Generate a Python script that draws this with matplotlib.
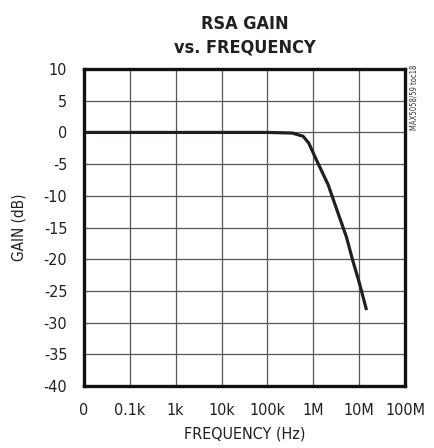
import numpy as np
import matplotlib
matplotlib.use("Agg")
import matplotlib.pyplot as plt

plt.rcParams['font.family'] = ['DejaVu Sans']
plt.rcParams['font.stretch'] = 'condensed'
plt.rcParams['axes.unicode_minus'] = False

# data
freq_hz = [10, 100, 1e3, 1e4, 1e5, 3.5e5, 6e5, 8e5, 1.2e6, 2.1e6, 3.5e6, 5.3e6, 7.2e6, 1e7, 1.45e7]
gain_db = [0, 0, 0, 0, 0, -0.1, -0.6, -1.7, -4.5, -8.2, -12.8, -16.5, -20.1, -23.6, -28.0]

xticks = [10, 100, 1e3, 1e4, 1e5, 1e6, 1e7, 1e8]
xtick_labels = ['0', '0.1k', '1k', '10k', '100k', '1M', '10M', '100M']
yticks = np.arange(-40, 11, 5)

fig = plt.figure(figsize=(4.35, 4.48), dpi=100)
ax = fig.add_axes([0.193, 0.138, 0.738, 0.708])

ax.plot(freq_hz, gain_db, color='#231f20', lw=2.3, solid_capstyle='butt')

ax.set_xscale('log')
ax.set_xlim(10, 1e8)
ax.set_ylim(-40, 10)
ax.set_xticks(xticks)
ax.set_xticklabels(xtick_labels)
ax.set_yticks(yticks)
ax.minorticks_off()
ax.tick_params(length=0, labelsize=11.5, colors='#231f20')
ax.tick_params(axis='x', pad=12)
ax.tick_params(axis='y', pad=12)
ax.grid(True, color='#555555', lw=0.9)

for s in ax.spines.values():
    s.set_linewidth(2.4)
    s.set_color('#111111')

ax.set_xlabel('FREQUENCY (Hz)', fontsize=11.5, color='#231f20', labelpad=6)
ax.set_ylabel('GAIN (dB)', fontsize=11, color='#231f20', labelpad=12)
ax.set_title('RSA GAIN\nvs. FREQUENCY', fontsize=13, fontweight='bold',
             color='#231f20', linespacing=1.35, pad=12)

fig.text(0.951, 0.855, 'MAX5058/59 toc18', rotation=90, fontsize=5.5,
         color='#333333', ha='center', va='top')

fig.savefig('out.png', dpi=100)
